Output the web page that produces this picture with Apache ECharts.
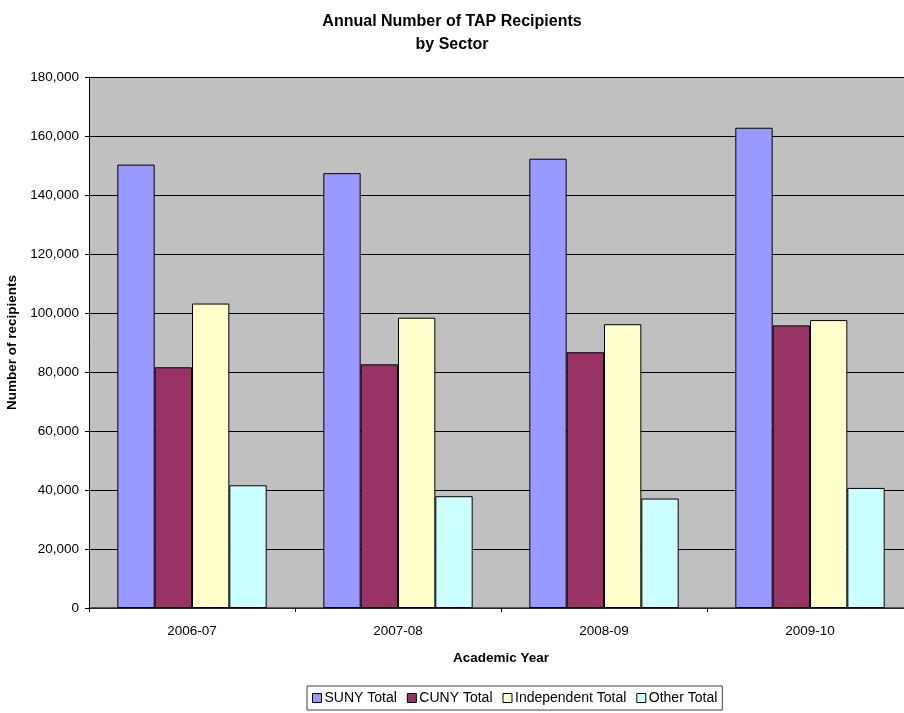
<!DOCTYPE html>
<html>
<head>
<meta charset="utf-8">
<script src="https://cdn.jsdelivr.net/npm/echarts@6/dist/echarts.min.js"></script>
<style>html,body{margin:0;padding:0;background:#fff;overflow:hidden}#c{width:904px;height:713px}</style>
</head>
<body>
<div id="c"></div>
<script>
var categories = ['2006-07', '2007-08', '2008-09', '2009-10'];
var sunyTotal = [150300, 147400, 152300, 162800];
var cunyTotal = [81600, 82600, 86700, 95800];
var independentTotal = [103200, 98400, 96200, 97600];
var otherTotal = [41600, 37900, 37100, 40700];
var seriesNames = ['SUNY Total', 'CUNY Total', 'Independent Total', 'Other Total'];
var seriesColors = ['#9999ff', '#993366', '#ffffcc', '#ccffff'];
var seriesData = [sunyTotal, cunyTotal, independentTotal, otherTotal];

var FONT = "'Liberation Sans', Arial, sans-serif";
var chart = echarts.init(document.getElementById('c'));
chart.setOption({
  animation: false,
  backgroundColor: '#ffffff',
  title: {
    text: 'Annual Number of TAP Recipients\nby Sector',
    left: 'center',
    top: 5,
    textStyle: { fontFamily: FONT, fontSize: 16, fontWeight: 'bold', color: '#000', lineHeight: 23 }
  },
  legend: {
    left: 307,
    top: 686,
    data: seriesNames,
    icon: 'rect',
    itemWidth: 9,
    itemHeight: 9,
    itemGap: 10,
    padding: [5, 5, 5, 5],
    borderColor: '#404040',
    borderWidth: 1,
    borderRadius: 0,
    textStyle: { fontFamily: FONT, fontSize: 14, color: '#000', padding: [0, 0, 0, -2] },
    itemStyle: { borderColor: '#000', borderWidth: 1 }
  },
  grid: {
    left: 89, top: 77, width: 824, bottom: 105,
    containLabel: false, outerBoundsMode: 'none',
    backgroundColor: '#c0c0c0', show: true, borderWidth: 0
  },
  xAxis: {
    type: 'category',
    data: categories,
    name: 'Academic Year',
    nameLocation: 'middle',
    nameGap: 43,
    nameTextStyle: { fontFamily: FONT, fontSize: 13.5, fontWeight: 'bold', color: '#000' },
    axisLine: { show: true, lineStyle: { color: '#333', width: 1.5 } },
    axisTick: { show: true, length: 4, lineStyle: { color: '#000' } },
    axisLabel: { fontFamily: FONT, fontSize: 13.5, color: '#000', margin: 16 },
    splitLine: { show: false }
  },
  yAxis: {
    type: 'value',
    min: 0,
    max: 180000,
    interval: 20000,
    name: 'Number of recipients',
    nameLocation: 'middle',
    nameGap: 55,
    nameTextStyle: { fontFamily: FONT, fontSize: 13.5, fontWeight: 'bold', color: '#000' },
    axisLine: { show: true, lineStyle: { color: '#000', width: 1 } },
    axisTick: { show: true, length: 4, lineStyle: { color: '#000' } },
    axisLabel: {
      fontFamily: FONT, fontSize: 13.5, color: '#000', margin: 10,
      formatter: function (v) { return v.toLocaleString('en-US'); }
    },
    splitLine: { show: true, lineStyle: { color: '#000', width: 1 } }
  },
  series: seriesNames.map(function (n, i) {
    return {
      name: n,
      type: 'bar',
      data: seriesData[i],
      barGap: '0%',
      barCategoryGap: '27.5%',
      itemStyle: { color: seriesColors[i], borderColor: '#000', borderWidth: 1 }
    };
  })
});
</script>
</body>
</html>
